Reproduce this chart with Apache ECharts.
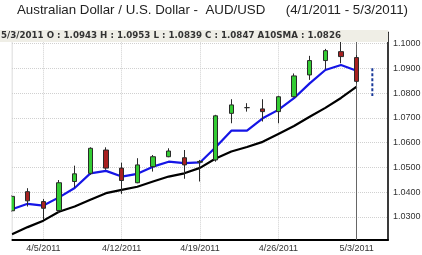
<!DOCTYPE html>
<html>
<head>
<meta charset="utf-8">
<script src="https://cdn.jsdelivr.net/npm/echarts@6/dist/echarts.min.js"></script>
<style>
html,body{margin:0;padding:0;background:#fff;}
#c{width:422px;height:255px;}
</style>
</head>
<body>
<div id="c"></div>
<script>
var categories = ['4/1/2011','4/4/2011','4/5/2011','4/6/2011','4/7/2011','4/8/2011',
  '4/11/2011','4/12/2011','4/13/2011','4/14/2011','4/15/2011',
  '4/18/2011','4/19/2011','4/20/2011','4/21/2011','4/22/2011',
  '4/25/2011','4/26/2011','4/27/2011','4/28/2011','4/29/2011',
  '5/2/2011','5/3/2011','',''];
var openV  = [1.0325,1.0402,1.0362,1.0326,1.0443,1.0476,1.0570,1.0497,1.0438,1.0503,1.0543,1.0539,1.0521,1.0530,1.0718,1.0741,1.0736,1.0725,1.0785,1.0873,1.0931,1.0967,1.0943];
var highV  = [1.0388,1.0416,1.0372,1.0449,1.0507,1.0581,1.0581,1.0519,1.0537,1.0550,1.0577,1.0570,1.0530,1.0712,1.0775,1.0759,1.0775,1.0789,1.0879,1.0950,1.0978,1.1014,1.0953];
var lowV   = [1.0320,1.0342,1.0288,1.0317,1.0418,1.0470,1.0490,1.0393,1.0436,1.0483,1.0541,1.0454,1.0443,1.0523,1.0678,1.0725,1.0685,1.0678,1.0783,1.0853,1.0896,1.0920,1.0839];
var closeV = [1.0383,1.0365,1.0335,1.0438,1.0474,1.0577,1.0497,1.0447,1.0510,1.0543,1.0566,1.0510,1.0524,1.0708,1.0752,1.0741,1.0725,1.0785,1.0869,1.0931,1.0971,1.0947,1.0847];
var blueSMA = [1.0331,1.0353,1.0346,1.0379,1.0417,1.0476,1.0486,1.0463,1.0474,1.0503,1.0523,1.0517,1.0520,1.0581,1.0648,1.0648,1.0698,1.0732,1.0779,1.0839,1.0893,1.0913,1.0890];
var a10SMA = [1.0230,1.0259,1.0285,1.0321,1.0342,1.0369,1.0396,1.0409,1.0422,1.0443,1.0463,1.0476,1.0498,1.0536,1.0564,1.0582,1.0603,1.0635,1.0667,1.0704,1.0740,1.0780,1.0826];
var projIndex = 23;
var projRange = [1.0900, 1.0788];
var titleMain = 'Australian Dollar / U.S. Dollar -  AUD/USD';
var titleRange = '(4/1/2011 - 5/3/2011)';
var headerText = '5/3/2011 O : 1.0943 H : 1.0953 L : 1.0839 C : 1.0847 A10SMA : 1.0826';

var candleData = openV.map(function(o,i){ return [o, closeV[i], lowV[i], highV[i]]; });
function labelShown(i){ return i % 5 === 2 && i <= 22; }

var chart = echarts.init(document.getElementById('c'), null, {renderer:'canvas'});
chart.setOption({
  animation:false,
  backgroundColor:'#fff',
  grid:{left:12,right:34,top:32.3,bottom:15,show:true,borderColor:'#cfcfcf',borderWidth:1,backgroundColor:'#fff',outerBoundsMode:'none'},
  xAxis:{
    type:'category', data:categories, boundaryGap:false,
    axisLine:{show:true,lineStyle:{color:'#000',width:2}},
    axisTick:{show:false},
    axisLabel:{interval:function(i){return labelShown(i);}, color:'#333', fontSize:9, fontFamily:'Liberation Sans', margin:4},
    splitLine:{show:true, interval:function(i){return labelShown(i);}, lineStyle:{color:'#d0d0d0',type:'dotted',width:1}}
  },
  yAxis:{
    type:'value', position:'right', min:1.0207, max:1.1045, splitNumber:8, minInterval:0.01, maxInterval:0.01, scale:true,
    axisLine:{show:true,lineStyle:{color:'#000',width:1.5}},
    axisTick:{show:false},
    axisLabel:{color:'#333',fontSize:9,fontFamily:'Liberation Sans',margin:5,showMinLabel:false,showMaxLabel:false,
      formatter:function(v){return v.toFixed(4);}},
    splitLine:{show:true,lineStyle:{color:'#d0d0d0',type:'dotted',width:1}}
  },
  series:[
    {type:'line', data:a10SMA, symbol:'none', lineStyle:{color:'#000',width:2.2}, z:3},
    {type:'line', data:blueSMA, symbol:'none', lineStyle:{color:'#1515e6',width:2.2}, z:4},
    {type:'candlestick', data:candleData, barWidth:5, z:5, clip:true,
      itemStyle:{color:'#33cc33',color0:'#a82020',borderColor:'#2a2a2a',borderColor0:'#2a2a2a',borderWidth:1},
      markLine:{silent:true,symbol:['none','none'],label:{show:false},
        lineStyle:{color:'#666',width:1,type:'solid'},
        data:[{xAxis:22}]}},
    {type:'line', data:[[projIndex,projRange[0]],[projIndex,projRange[1]]], symbol:'none',
      lineStyle:{color:'#1a3a9a',width:2,type:[3,2]}, z:4}
  ],
  graphic:[
    {type:'rect', left:0, top:32, z:99, shape:{width:11.5,height:210}, style:{fill:'#fff'}},
    {type:'text', left:17, top:4, style:{text:titleMain, fill:'#222', font:'13.3px "Liberation Sans"'}},
    {type:'text', right:14, top:4, style:{text:titleRange, fill:'#222', font:'13.3px "Liberation Sans"'}},
    {type:'rect', left:0, top:30, z:100, shape:{width:388,height:12}, style:{fill:'#efeee6'}},
    {type:'text', left:1, top:31, z:101, style:{text:headerText, fill:'#333', font:'bold 8.7px "DejaVu Sans"'}}
  ]
});
</script>
</body>
</html>
